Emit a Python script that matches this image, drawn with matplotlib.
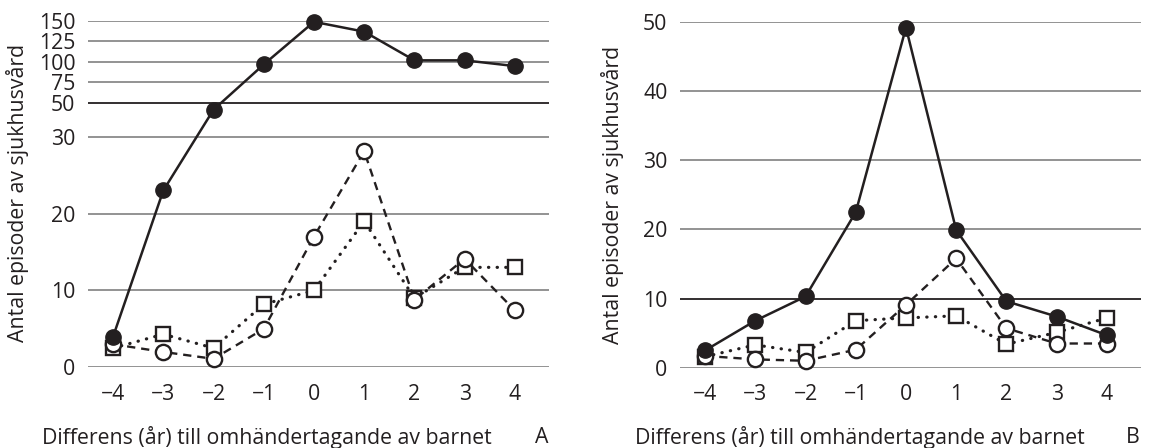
import numpy as np
import matplotlib
matplotlib.use("Agg")
import matplotlib.pyplot as plt

plt.rcParams['font.family'] = ['Open Sans', 'DejaVu Sans']

x = [-4, -3, -2, -1, 0, 1, 2, 3, 4]
xticklabels = ['\u22124', '\u22123', '\u22122', '\u22121', '0', '1', '2', '3', '4']

# Panel A
a_filled = [4, 23, 46, 97, 149, 137, 102, 102, 95]
a_circle = [3, 2, 1.1, 5, 17, 28.1, 8.8, 14.1, 7.4]
a_square = [2.5, 4.3, 2.5, 8.2, 10, 19, 9, 13, 13]
a_yticks = [0, 10, 20, 30, 50, 75, 100, 125, 150]

# Panel B
b_filled = [2.5, 6.8, 10.3, 22.5, 49.2, 19.9, 9.6, 7.4, 4.7]
b_circle = [1.7, 1.2, 1.0, 2.6, 9.1, 15.8, 5.7, 3.5, 3.5]
b_square = [1.6, 3.3, 2.2, 6.8, 7.2, 7.5, 3.4, 5.1, 7.2]
b_yticks = [0, 10, 20, 30, 40, 50]

ylabel = 'Antal episoder av sjukhusvård'
xlabel = 'Differens (år) till omhändertagande av barnet'

# piecewise scale for panel A
XP = [-100, 0, 30, 50, 1000]
FP = [-100, 0, 30, 34.38, 34.38 + 950 * 0.1066]

def fwd(y):
    return np.interp(y, XP, FP)

def inv(y):
    return np.interp(y, FP, XP)

W, H = 1153, 448
fig = plt.figure(figsize=(W / 100, H / 100), dpi=100)

def make_ax(left_px, right_px, top_px, bottom_px):
    return fig.add_axes([left_px / W, 1 - bottom_px / H,
                         (right_px - left_px) / W, (bottom_px - top_px) / H])

axA = make_ax(88, 549, 21, 367.3)
axB = make_ax(680, 1141, 22, 367.7)

dark = '#231f20'
grey = '#8a8a8a'
FS = 15.3

def style(ax, yticks, dark_line):
    for s in ax.spines.values():
        s.set_visible(False)
    ax.set_xlim(-4.5, 4.68)
    ax.set_xticks(x)
    ax.set_xticklabels(xticklabels)
    ax.set_yticks(yticks)
    ax.tick_params(length=0, labelsize=FS, colors=dark, pad=9)
    ax.tick_params(axis='x', pad=12)
    for t in yticks:
        ax.axhline(t, color=dark if t == dark_line else grey, lw=1.3, zorder=0)

def plot_series(ax, f, c, s):
    ax.plot(x, s, linestyle=(0, (0.1, 2.6)), dash_capstyle='round', color=dark, lw=2.3,
            marker='s', ms=10.5, mfc='white', mec=dark, mew=1.7, clip_on=False, zorder=3)
    ax.plot(x, c, linestyle=(0, (3.5, 2.5)), color=dark, lw=1.7,
            marker='o', ms=11, mfc='white', mec=dark, mew=1.7, clip_on=False, zorder=4)
    ax.plot(x, f, linestyle='-', color=dark, lw=1.8,
            marker='o', ms=11, mfc=dark, mec=dark, clip_on=False, zorder=5)

axA.set_yscale('function', functions=(fwd, inv))
axA.set_ylim(0, 150)
style(axA, a_yticks, 50)
axA.set_yticklabels([str(t) for t in a_yticks])
plot_series(axA, a_filled, a_circle, a_square)

axB.set_ylim(0, 50)
style(axB, b_yticks, 10)
axB.set_yticklabels([str(t) for t in b_yticks])
plot_series(axB, b_filled, b_circle, b_square)

fig.text(18 / W, 1 - 193 / H, ylabel, rotation=90, ha='center', va='center',
         fontsize=FS, color=dark)
fig.text(613 / W, 1 - 195 / H, ylabel, rotation=90, ha='center', va='center',
         fontsize=FS, color=dark)
fig.text(42 / W, 1 - 437 / H, xlabel, ha='left', va='center', fontsize=FS, color=dark)
fig.text(542 / W, 1 - 437 / H, 'A', ha='center', va='center', fontsize=FS, color=dark)
fig.text(635 / W, 1 - 437 / H, xlabel, ha='left', va='center', fontsize=FS, color=dark)
fig.text(1133 / W, 1 - 437 / H, 'B', ha='center', va='center', fontsize=FS, color=dark)

fig.savefig('out.png', dpi=100)
